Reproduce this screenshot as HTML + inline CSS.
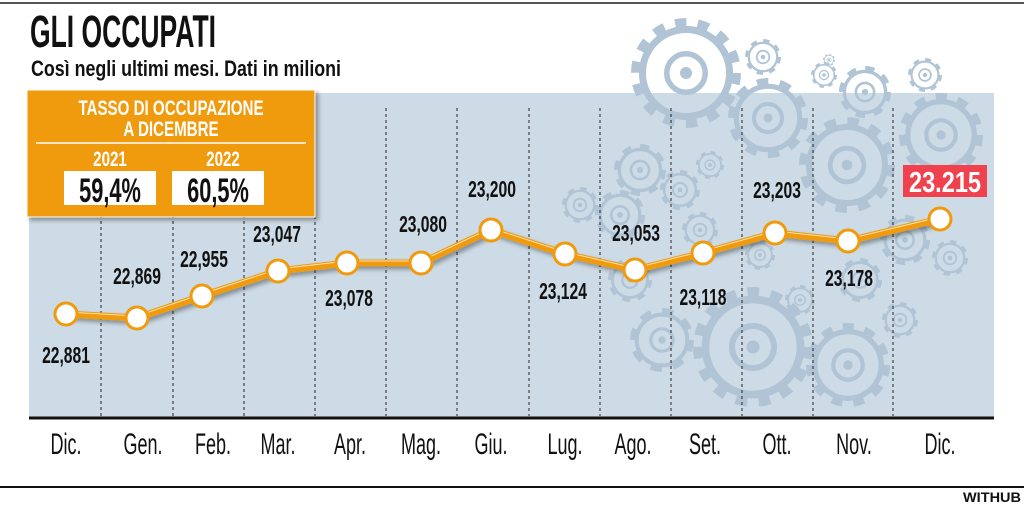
<!DOCTYPE html>
<html><head><meta charset="utf-8"><style>
body{margin:0;width:1024px;height:505px;background:#fff;overflow:hidden;font-family:"Liberation Sans",sans-serif}
svg{position:absolute;left:0;top:0}
</style></head><body>
<svg width="1024" height="505" viewBox="0 0 1024 505" font-family="'Liberation Sans',sans-serif">
<defs><filter id="sh" x="-10%" y="-10%" width="130%" height="130%"><feDropShadow dx="3" dy="3" stdDeviation="2" flood-color="#000" flood-opacity="0.35"/></filter>
<clipPath id="cp"><rect x="29" y="0" width="965" height="418"/></clipPath></defs>
<line x1="0" y1="3" x2="1024" y2="3" stroke="#555" stroke-width="2"/>
<rect x="29" y="93" width="965" height="325" fill="#cddbe6"/>
<g id="gears" clip-path="url(#cp)" fill="none" stroke="#b0c4d6"></g>
<g stroke="#222" stroke-width="1" stroke-dasharray="3,3">
<line x1="101" y1="215" x2="101" y2="416"/><line x1="173" y1="215" x2="173" y2="416"/><line x1="244" y1="215" x2="244" y2="416"/>
<line x1="315" y1="108" x2="315" y2="416"/><line x1="386" y1="108" x2="386" y2="416"/><line x1="457" y1="108" x2="457" y2="416"/>
<line x1="529" y1="108" x2="529" y2="416"/><line x1="600" y1="108" x2="600" y2="416"/><line x1="671" y1="108" x2="671" y2="416"/>
<line x1="742" y1="108" x2="742" y2="416"/><line x1="813" y1="108" x2="813" y2="416"/><line x1="893" y1="108" x2="893" y2="416"/>
</g>
<line x1="29" y1="418" x2="994" y2="418" stroke="#111" stroke-width="3"/>
<g filter="url(#sh)">
<polyline points="66,314 137,318 202,296 278,271 347,263 421,263 491,230 565,254 635,270 703,253 775,233 848,241 940,219" fill="none" stroke="#f09a0c" stroke-width="7" stroke-linejoin="round"/>
</g>
<polyline points="66,312 137,316 202,294 278,269 347,261 421,261 491,228 565,252 635,268 703,251 775,231 848,239 940,217" fill="none" stroke="#fff" stroke-width="1" stroke-opacity="0.7"/>
<g fill="#fff" stroke="#f09a0c" stroke-width="3">
<circle cx="66" cy="314" r="11"/><circle cx="137" cy="318" r="11"/><circle cx="202" cy="296" r="11"/><circle cx="278" cy="271" r="11"/><circle cx="347" cy="263" r="11"/><circle cx="421" cy="263" r="11"/><circle cx="491" cy="230" r="11"/><circle cx="565" cy="254" r="11"/><circle cx="635" cy="270" r="11"/><circle cx="703" cy="253" r="11"/><circle cx="775" cy="233" r="11"/><circle cx="848" cy="241" r="11"/><circle cx="940" cy="219" r="11"/>
</g>
<g font-size="23" font-weight="bold" fill="#111" text-anchor="middle" class="n" data-s="0.68">
<text x="66" y="363">22,881</text><text x="137" y="284">22,869</text><text x="204" y="267">22,955</text><text x="277" y="242">23,047</text>
<text x="349" y="306">23,078</text><text x="423" y="232">23,080</text><text x="492" y="197">23,200</text><text x="563" y="299">23,124</text>
<text x="636" y="241">23,053</text><text x="703" y="305">23,118</text><text x="777" y="198">23,203</text><text x="849" y="286">23,178</text>
</g>
<rect x="903" y="165" width="84" height="32" fill="#f0414f"/>
<text x="945" y="192" font-size="29" font-weight="bold" fill="#fff" text-anchor="middle" textLength="72" lengthAdjust="spacingAndGlyphs">23.215</text>
<g font-size="30" fill="#111" text-anchor="middle" class="n" data-s="0.6">
<text x="66" y="454">Dic.</text><text x="143" y="454">Gen.</text><text x="213" y="454">Feb.</text><text x="278" y="454">Mar.</text><text x="350" y="454">Apr.</text><text x="421" y="454">Mag.</text><text x="491" y="454">Giu.</text><text x="565" y="454">Lug.</text><text x="633" y="454">Ago.</text><text x="705" y="454">Set.</text><text x="777" y="454">Ott.</text><text x="854" y="454">Nov.</text><text x="940" y="454">Dic.</text>
</g>
<line x1="0" y1="487" x2="1024" y2="487" stroke="#111" stroke-width="2"/>
<text x="1021" y="502" font-size="14" font-weight="bold" fill="#111" text-anchor="end" textLength="58" lengthAdjust="spacingAndGlyphs">WITHUB</text>
<text x="30" y="47" font-size="45" font-weight="bold" fill="#111" textLength="186" lengthAdjust="spacingAndGlyphs">GLI OCCUPATI</text>
<text x="31" y="76" font-size="22" font-weight="bold" fill="#111" textLength="310" lengthAdjust="spacingAndGlyphs">Così negli ultimi mesi. Dati in milioni</text>
<rect x="27" y="90" width="288" height="127" fill="#f09a0c" stroke="#fff" stroke-width="1" filter="url(#sh)"/>
<g font-weight="bold" fill="#fff" text-anchor="middle" font-size="21" class="n" data-s="0.72">
<text x="171" y="115">TASSO DI OCCUPAZIONE</text><text x="171" y="136">A DICEMBRE</text>
<text x="110" y="166">2021</text><text x="223" y="166">2022</text>
</g>
<line x1="36" y1="143" x2="306" y2="143" stroke="#fff" stroke-width="1.5"/>
<rect x="64" y="171" width="92" height="34" fill="#fff"/><rect x="172" y="171" width="92" height="34" fill="#fff"/>
<g font-weight="bold" fill="#111" text-anchor="middle" font-size="34" class="n" data-s="0.64">
<text x="110" y="202">59,4%</text><text x="218" y="202">60,5%</text>
</g>
</svg>
<script>
document.querySelectorAll('.n').forEach(function(gr){var s=parseFloat(gr.getAttribute('data-s'));gr.querySelectorAll('text').forEach(function(t){var w=t.getComputedTextLength();t.setAttribute('textLength',w*s);t.setAttribute('lengthAdjust','spacingAndGlyphs');});});
var g=document.getElementById('gears');
function gear(cx,cy,R){
 var t=R*0.16, ns='http://www.w3.org/2000/svg';
 var circ=2*Math.PI*(R-t/2); var n=Math.max(8,Math.round(R/4)); var seg=circ/n;
 var a=document.createElementNS(ns,'circle');a.setAttribute('cx',cx);a.setAttribute('cy',cy);a.setAttribute('r',R-t/2);
 a.setAttribute('stroke-width',t);a.setAttribute('stroke-dasharray',(seg*0.5)+' '+(seg*0.5));g.appendChild(a);
 var b=document.createElementNS(ns,'circle');b.setAttribute('cx',cx);b.setAttribute('cy',cy);b.setAttribute('r',R-t*1.3);
 b.setAttribute('stroke-width',t*0.8);g.appendChild(b);
 var c=document.createElementNS(ns,'circle');c.setAttribute('cx',cx);c.setAttribute('cy',cy);c.setAttribute('r',R*0.35);
 c.setAttribute('stroke-width',R*0.1);g.appendChild(c);
 var d=document.createElementNS(ns,'circle');d.setAttribute('cx',cx);d.setAttribute('cy',cy);d.setAttribute('r',R*0.1);
 d.setAttribute('fill','#b0c4d6');g.appendChild(d);
}
[[686,73,55],[763,57,18],[768,118,40],[824,75,13],[829,60,6],[865,92,26],[925,75,17],[941,135,42],[847,165,48],
[640,170,26],[680,190,20],[710,165,14],[620,215,25],[580,205,18],[700,230,18],[760,255,15],[860,280,22],[905,240,25],
[950,258,18],[753,347,60],[848,365,42],[662,340,32],[630,280,22],[800,300,15],[900,320,18]].forEach(function(a){gear(a[0],a[1],a[2]);});
</script>
</body></html>
